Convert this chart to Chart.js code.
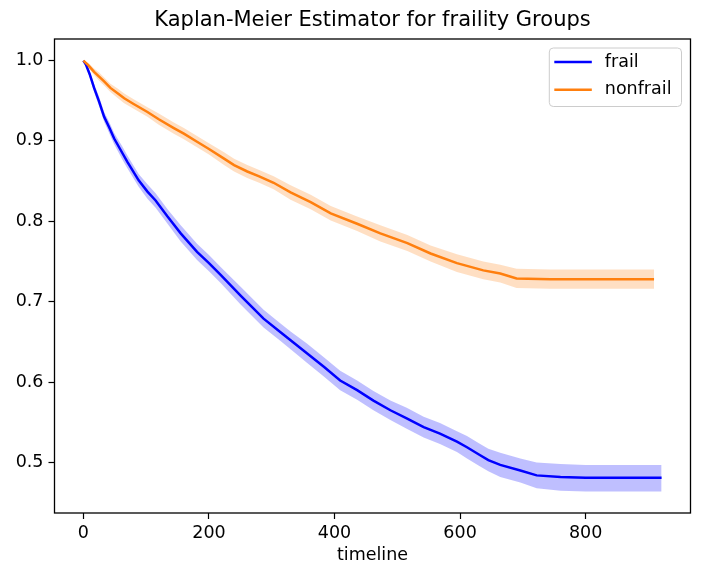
<!DOCTYPE html>
<html>
<head>
<meta charset="utf-8">
<script src="https://cdn.jsdelivr.net/npm/chart.js@4"></script>
<style>
body{margin:0;background:#fff;}
</style>
</head>
<body>
<canvas id="km" width="701" height="571"></canvas>
<script>

// values
let frailTime = [0,4,10,17,25,33,41,49,62,70,88,102,115,134,155,181,200,219,250,287,314,330,356,383,409,436,462,489,515,542,568,595,611,630,645,664,696,722,760,800,921];
let frailSurv = [1.000,0.995,0.983,0.966,0.949,0.930,0.917,0.903,0.885,0.874,0.851,0.837,0.826,0.806,0.785,0.762,0.748,0.733,0.708,0.679,0.662,0.652,0.636,0.619,0.602,0.590,0.577,0.565,0.555,0.544,0.536,0.526,0.519,0.510,0.503,0.497,0.490,0.484,0.482,0.481,0.481];
let frailLower = [1.000,0.993,0.979,0.961,0.943,0.924,0.910,0.896,0.877,0.866,0.843,0.828,0.817,0.797,0.775,0.752,0.738,0.723,0.697,0.668,0.651,0.641,0.624,0.607,0.590,0.578,0.565,0.553,0.542,0.531,0.523,0.513,0.505,0.496,0.489,0.482,0.475,0.468,0.465,0.464,0.464];
let frailUpper = [1.000,0.997,0.987,0.971,0.955,0.936,0.924,0.910,0.893,0.882,0.859,0.846,0.835,0.815,0.795,0.772,0.758,0.743,0.719,0.690,0.673,0.663,0.648,0.631,0.614,0.602,0.589,0.577,0.568,0.557,0.549,0.539,0.533,0.524,0.517,0.512,0.505,0.500,0.498,0.497,0.497];

let nonfrailTime = [0,8,17,25,33,43,55,65,80,102,120,144,160,181,200,224,240,261,280,303,330,362,394,436,473,516,553,595,637,664,690,744,909];
let nonfrailSurv = [1.000,0.994,0.986,0.980,0.974,0.966,0.959,0.953,0.946,0.936,0.927,0.916,0.909,0.899,0.890,0.878,0.870,0.862,0.856,0.848,0.836,0.824,0.810,0.797,0.785,0.773,0.760,0.748,0.739,0.735,0.729,0.728,0.728];
let nonfrailLower = [1.000,0.991,0.982,0.975,0.969,0.961,0.953,0.947,0.940,0.930,0.920,0.909,0.902,0.892,0.883,0.870,0.862,0.854,0.848,0.840,0.827,0.815,0.801,0.788,0.775,0.763,0.750,0.737,0.728,0.724,0.717,0.716,0.716];
let nonfrailUpper = [1.000,0.997,0.990,0.985,0.979,0.971,0.965,0.959,0.952,0.942,0.934,0.923,0.916,0.906,0.897,0.886,0.878,0.870,0.864,0.856,0.845,0.833,0.819,0.806,0.795,0.783,0.770,0.759,0.750,0.746,0.741,0.740,0.740];

let xTicks = [0,200,400,600,800];
let yTicks = [0.5,0.6,0.7,0.8,0.9,1.0];

function pts(t,v){
return t.map(function(x,i){ return {x:x,y:v[i]}; });
}

// matplotlib style 5% margins
function padRange(arr){
let lo = Math.min(...arr), hi = Math.max(...arr);
let m = (hi-lo)*0.05;
return [lo-m, hi+m];
}

let xRange = padRange(frailTime.concat(nonfrailTime));
let yRange = padRange(frailLower.concat(frailUpper,nonfrailLower,nonfrailUpper));

const FONT = "'DejaVu Sans', sans-serif";
Chart.defaults.font.family = FONT;
Chart.defaults.color = '#000';

/* frame round the axes */
const frame = {
id:'frame',
afterDraw(chart){
const ctx = chart.ctx, a = chart.chartArea;
ctx.save();
ctx.strokeStyle = '#000';
ctx.lineWidth = 1.3;
ctx.strokeRect(a.left, a.top, a.right-a.left, a.bottom-a.top);
ctx.restore();
}
};

/* legend box inside upper right */
const boxLegend = {
id:'boxLegend',
afterDraw(chart){
const ctx = chart.ctx, a = chart.chartArea;
let items = chart.data.datasets.filter(d => d.legend);
ctx.save();
ctx.font = "17.5px " + FONT;
let textW = Math.max(...items.map(d => ctx.measureText(d.label).width));
let w = 5 + 37.5 + 13 + textW + 10;
let h = 58.5;
let x = a.right - 9 - w;
let y = a.top + 9;
ctx.beginPath();
ctx.roundRect(x, y, w, h, 4);
ctx.fillStyle = 'rgba(255,255,255,0.8)';
ctx.fill();
ctx.strokeStyle = '#cccccc';
ctx.lineWidth = 1;
ctx.stroke();
items.forEach(function(d,i){
let cy = y + 14 + i*27.7;
ctx.beginPath();
ctx.moveTo(x+5, cy);
ctx.lineTo(x+42.5, cy);
ctx.strokeStyle = d.borderColor;
ctx.lineWidth = d.borderWidth;
ctx.stroke();
ctx.fillStyle = '#000';
ctx.textBaseline = 'middle';
ctx.textAlign = 'left';
ctx.fillText(d.label, x+55.5, cy);
});
ctx.restore();
}
};

function band(label, t, v, fill, color, order){
return {
label:label,
data:pts(t,v),
borderWidth:0,
borderColor:'transparent',
backgroundColor:color,
pointRadius:0,
fill:fill,
order:order
};
}

new Chart(document.getElementById('km'),{
type:'line',
data:{
datasets:[
band('frail lower', frailTime, frailLower, false, 'rgba(0,0,255,0.25)', 3),
band('frail upper', frailTime, frailUpper, '-1', 'rgba(0,0,255,0.25)', 3),
{
label:'frail',
data:pts(frailTime, frailSurv),
borderColor:'#0000ff',
borderWidth:2.5,
pointRadius:0,
fill:false,
legend:true,
order:2
},
band('nonfrail lower', nonfrailTime, nonfrailLower, false, 'rgba(255,127,14,0.25)', 1),
band('nonfrail upper', nonfrailTime, nonfrailUpper, '-1', 'rgba(255,127,14,0.25)', 1),
{
label:'nonfrail',
data:pts(nonfrailTime, nonfrailSurv),
borderColor:'#ff7f0e',
borderWidth:2.5,
pointRadius:0,
fill:false,
legend:true,
order:0
}
]
},
options:{
responsive:false,
animation:false,
devicePixelRatio:1,
layout:{padding:{left:0,right:10.5,top:0,bottom:0}},
plugins:{
legend:{display:false},
tooltip:{enabled:false},
title:{
display:true,
fullSize:false,
text:'Kaplan-Meier Estimator for fraility Groups',
color:'#000',
font:{size:21,weight:'normal',family:FONT},
padding:{top:8.4,bottom:5.4}
}
},
scales:{
x:{
type:'linear',
min:xRange[0],
max:xRange[1],
afterBuildTicks:function(s){ s.ticks = xTicks.map(v => ({value:v})); },
afterFit:function(s){ s.height = 58; },
ticks:{
font:{size:17.5},
color:'#000',
padding:4,
maxRotation:0,
callback:function(v){ return v; }
},
grid:{drawOnChartArea:false, drawTicks:true, tickLength:6, tickWidth:1.2, color:'#000'},
border:{display:false},
title:{
display:true,
text:'timeline',
color:'#000',
font:{size:17.5},
padding:{top:0,bottom:5.5}
}
},
y:{
type:'linear',
min:yRange[0],
max:yRange[1],
afterBuildTicks:function(s){ s.ticks = yTicks.map(v => ({value:v})); },
afterFit:function(s){ s.width = 54.5; },
ticks:{
font:{size:17.5},
color:'#000',
padding:5,
callback:function(v){ return v.toFixed(1); }
},
grid:{drawOnChartArea:false, drawTicks:true, tickLength:6, tickWidth:1.2, color:'#000'},
border:{display:false}
}
}
},
plugins:[frame, boxLegend]
});

</script>
</body>
</html>
